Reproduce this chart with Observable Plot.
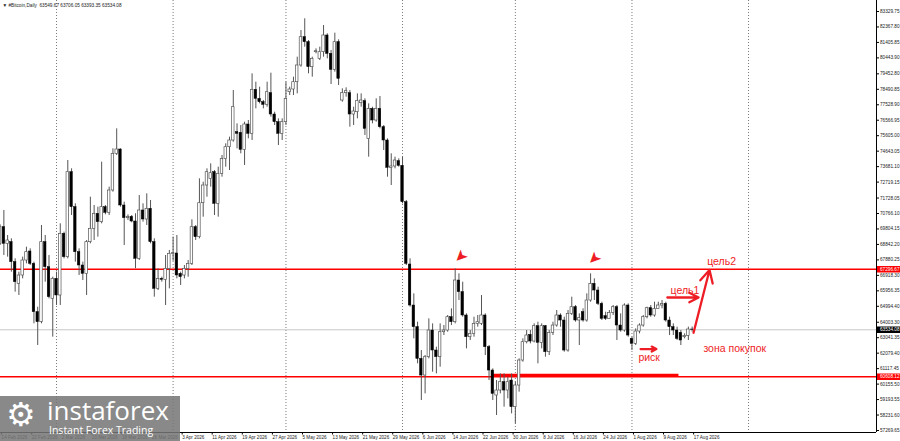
<!DOCTYPE html>
<html><head><meta charset="utf-8">
<script src="https://cdn.jsdelivr.net/npm/d3@7"></script>
<script src="https://cdn.jsdelivr.net/npm/@observablehq/plot@0.6"></script>
<style>
html,body{margin:0;padding:0;background:#fff;overflow:hidden}
#wrap{position:relative;width:900px;height:441px;overflow:hidden}
#wm{position:absolute;left:0;top:396px;width:180px;height:45px;background:rgba(118,118,118,0.86);color:#fff;font-family:"Open Sans","Liberation Sans",sans-serif;overflow:hidden}
#wm .gear{position:absolute;left:6px;top:1px;font-size:33px;line-height:36px;font-family:"DejaVu Sans"}
#wm .big{position:absolute;left:47px;top:1px;font-size:26px;line-height:27px}
#wm .small{position:absolute;left:49px;top:28px;font-size:10.5px;line-height:12px}
</style></head>
<body><div id="wrap"><div id="chart"></div>
<div id="wm"><span class="gear">⚙</span><div class="big">instaforex</div><div class="small">Instant Forex Trading</div></div></div>
<script>
const startDate = new Date(Date.UTC(2026, 1, 14));
const openV = [68880,69916,68880,68984,67740,66392,66911,67843,68403,67636,64630,64008,68984,67429,65460,66703,65667,69502,68051,73337,71160,68362,67533,67014,68984,69813,70746,70227,71160,70808,72197,74477,74746,71264,70476,70559,70269,67947,70953,70393,71057,68984,66081,66703,66641,67325,68258,68279,67013,66909,67324,67635,69916,69294,71408,72507,72922,73337,71367,73233,74166,74891,75306,75824,75783,74725,76301,75721,78458,77898,77690,77525,78250,76923,76447,75721,76447,78312,78478,78934,79971,81733,81422,79867,80800,80386,80800,81837,80697,79702,81422,77794,78250,78250,76923,77068,77628,77753,75410,77276,76550,77276,76135,75306,73606,73689,74020,73730,71470,67593,65043,63696,61726,60689,61830,63488,62244,61830,63385,63488,64318,64007,66598,65873,64422,63074,63281,63903,63903,64422,62452,61000,59445,59756,60275,59756,60378,58720,60067,61622,62762,63219,62804,63758,62721,63758,62141,63343,63799,64421,64110,62244,64525,64939,64110,64628,64110,65354,66391,65976,65147,64380,64214,64587,64939,63799,63488,65043,62970,62659,63426,63799,64317,64877,64421,64836,65043,65147,64110,63695,63488,63343,63073,63156,63549.67];
const highV = [70061,70953,69398,69191,67947,67118,68051,68672,68569,67740,64941,70020,69398,68154,66807,67118,70124,69606,74062,73544,71367,68569,67740,69087,71782,71264,71160,73959,71264,72404,74788,76032,74788,71471,70683,70642,70746,71886,71367,71989,71575,69191,67325,66807,68154,68465,69294,69398,67117,67531,67842,70372,70019,72922,72714,73544,73855,73440,73648,74373,75099,75513,78416,76343,76239,76447,76550,79453,78934,78623,77794,78934,79494,77068,76654,76654,78934,78623,79245,80489,82148,82874,81526,80489,81008,81111,82459,81941,80904,81982,81568,78520,78582,78416,77379,78209,78209,77898,77587,77379,77898,78043,76239,75410,74477,74270,74166,74270,71574,67946,65769,64007,62244,61933,64214,63903,62451,63903,63799,64422,64836,67324,67013,66495,64525,63488,64318,64422,65665,64525,62555,61104,60378,60793,60793,60586,60793,60275,61726,62970,63488,63488,63903,64006,63903,63799,63488,64006,64732,64525,64317,64732,65561,65043,64525,64836,65769,67013,66702,66183,65250,64628,64732,65043,65043,64525,65147,65147,63073,63592,63903,64421,64939,65043,65250,65250,65354,65250,64317,63903,63695,63488,63281,63700,63706.05];
const lowV = [68776,68154,68051,67118,65874,65667,66703,67636,67533,63905,62557,63905,66496,65460,63076,65045,65045,67947,67947,70642,67740,66911,66599,65667,68880,69087,69294,70124,70683,70642,72093,74373,71160,68776,70331,70186,67325,67843,70227,70020,68880,65563,65978,66496,65045,66081,67800,66703,66287,66702,66806,67531,69086,69190,70537,71781,72403,70641,70537,73025,73648,73440,75203,74788,74477,73751,75410,75306,77276,77587,77276,77379,76757,76239,74995,75306,76239,78105,78105,78209,79867,81111,79453,79245,80697,80282,80489,80386,78789,79556,78727,77690,78001,76135,76239,76654,77379,75617,74270,76343,76447,76032,74684,73025,72507,73544,73647,71367,67531,64940,62970,61415,59134,59549,61726,60897,60793,61208,63178,63385,63799,63903,65354,64318,62348,62866,63074,63696,63799,61933,60378,59134,58202,59549,58720,59238,58305,57683,59653,61518,62659,62659,62721,61415,62348,61830,61933,63177,63695,63695,62141,62141,64421,64006,62555,64006,64006,65250,65354,65043,64110,64110,64214,64421,62866,63385,63385,63073,62244,62555,63281,63695,64214,64317,64317,64836,64836,64006,63177,63177,62866,62555,62970,62866,63393.35];
const closeV = [69916,68880,69087,67740,66496,66911,67843,68362,67636,64630,64008,68984,67429,65563,66703,65667,69502,68051,73337,71160,68362,67533,67014,68984,69813,70746,70227,71160,70808,72197,74477,74746,71264,70476,70559,70269,67947,70953,70393,71057,68984,66081,66703,66641,67325,68258,68300,66911,66806,67324,67635,69916,69294,71408,72507,73337,73274,71367,73233,74166,74891,75306,77379,75721,74725,76301,75721,78458,77898,77690,77525,78312,76923,76447,75721,76447,77898,78478,78934,79971,81733,81422,79867,80386,80862,80800,81837,80697,79702,81422,79142,78250,78375,76923,77110,77753,77794,76032,77276,76550,77276,76135,75306,73606,73689,74062,73730,71470,67635,65043,63696,61726,60689,61830,63488,62244,61830,63385,63488,64318,64007,66598,65873,64422,63074,63281,63903,64007,64422,62452,61000,59549,59756,60275,59756,60275,58720,60067,61622,62762,63178,62804,63758,62721,63758,62141,63343,63799,64421,64110,62244,64525,64939,64110,64255,64110,65354,66391,65976,65147,64214,64214,64587,64939,63799,63488,65043,63177,62659,63426,63799,64317,64877,64421,64836,65043,65147,64110,63695,63488,62970,62866,63156,63550,63534.08];

const yTicks = [83329.75,82367.80,81405.85,80443.90,79452.80,78490.85,77528.90,76566.95,75605.00,74643.05,73681.10,72719.15,71728.05,70766.10,69804.15,68842.20,67880.25,66918.30,65956.35,64994.40,64003.30,63041.35,62079.40,61117.45,60155.50,59193.55,58231.60,57269.65];
const xTickDates = ["2026-02-14","2026-02-22","2026-03-02","2026-03-10","2026-03-18","2026-03-26","2026-04-03","2026-04-11","2026-04-19","2026-04-27","2026-05-05","2026-05-13","2026-05-21","2026-05-29","2026-06-06","2026-06-14","2026-06-22","2026-06-30","2026-07-08","2026-07-16","2026-07-24","2026-08-01","2026-08-09","2026-08-17"].map(s => new Date(s + "T00:00Z"));
const monthSeparators = ["2026-03-01","2026-04-01","2026-05-01","2026-06-01","2026-07-01","2026-08-01","2026-09-01"].map(s => new Date(s + "T00:00Z"));
const levels = [67296.67, 60608.12];
const currentPrice = 63534.08;
const priceTags = [{value: 67296.67, color: "#ff0000"}, {value: 63534.08, color: "#000000"}, {value: 60608.12, color: "#ff0000"}];
const zoneSegment = [{y: 60720, x1: new Date("2026-06-25T00:00Z"), x2: new Date("2026-08-13T12:00Z")}];
const labels = [
  {text: "цель2", date: new Date("2026-08-21T00:00Z"), price: 67780},
  {text: "цель1", date: new Date("2026-08-11T06:00Z"), price: 65946},
  {text: "риск", date: new Date("2026-08-02T17:00Z"), price: 61778},
  {text: "зона покупок", date: new Date("2026-08-20T00:00Z"), price: 62370}
];
const arrows = [
  {x1: new Date("2026-08-17T09:00Z"), y1: 63350, x2: new Date("2026-08-21T15:00Z"), y2: 67250},
  {x1: new Date("2026-08-10T10:00Z"), y1: 65541, x2: new Date("2026-08-18T17:00Z"), y2: 65541},
  {x1: new Date("2026-08-03T07:00Z"), y1: 62337, x2: new Date("2026-08-07T12:00Z"), y2: 62337}
];
const peakMarks = [
  {date: new Date("2026-06-16T12:00Z"), price: 68090},
  {date: new Date("2026-07-22T00:00Z"), price: 67960}
];
const header = "▼ #Bitcoin,Daily  63549.67 63706.05 63393.35 63534.08";
const xDomain = [new Date(Date.UTC(2026, 1, 14, 2, 33)), new Date(Date.UTC(2026, 9, 5, 0, 30))];
const yDomain = [57145.3, 84013.9];

const candles = openV.map((o, i) => ({
  date: d3.utcDay.offset(startDate, i), open: o, high: highV[i], low: lowV[i], close: closeV[i]
}));
const RED = "#ee1c25";
const FONT = "'Liberation Sans', Arial, sans-serif";

const chart = Plot.plot({
  width: 900, height: 441,
  marginLeft: 0, marginTop: 0, marginRight: 24, marginBottom: 9,
  style: {fontFamily: FONT, overflow: "hidden", background: "#fff"},
  x: {type: "utc", domain: xDomain, axis: null},
  y: {domain: yDomain, axis: null},
  marks: [
    Plot.ruleX(monthSeparators, {stroke: "#7a7a7a", strokeDasharray: "1,2", strokeWidth: 1}),
    Plot.ruleY([currentPrice], {stroke: "#c8c8c8", strokeWidth: 1}),
    Plot.ruleY(levels, {stroke: "#ff0000", strokeWidth: 1.4}),
    Plot.ruleY(zoneSegment, {y: "y", x1: "x1", x2: "x2", stroke: "#ff0000", strokeWidth: 2.6}),
    Plot.ruleX(candles, {x: "date", y1: "low", y2: "high", stroke: "#555", strokeWidth: 1}),
    Plot.rect(candles, {filter: d => d.close >= d.open, x1: d => d3.utcHour.offset(d.date, -8), x2: d => d3.utcHour.offset(d.date, 8), y1: "open", y2: "close", fill: "#fff", stroke: "#555", strokeWidth: 0.7}),
    Plot.rect(candles, {filter: d => d.close < d.open, x1: d => d3.utcHour.offset(d.date, -8), x2: d => d3.utcHour.offset(d.date, 8), y1: "open", y2: "close", fill: "#000", stroke: "#000", strokeWidth: 0.5}),
    Plot.ruleX([xDomain[1]], {stroke: "#000", strokeWidth: 1}),
    Plot.ruleY([yDomain[0]], {stroke: "#000", strokeWidth: 1}),
    Plot.axisY(yTicks, {anchor: "right", tickFormat: d => d.toFixed(2), fontSize: 4.7, tickSize: 2, tickPadding: 1.5, fill: "#222", stroke: "#000", label: null}),
    Plot.axisX(xTickDates, {anchor: "bottom", tickFormat: d3.utcFormat("%-d %b %Y"), fontSize: 4.6, tickSize: 2.5, tickPadding: 0.5, textAnchor: "start", dx: 1.5, fill: "#222", stroke: "#000", label: null}),
    Plot.ruleY(priceTags, {y: "value", stroke: "color", strokeWidth: 6.5, dx: 877}),
    Plot.text(priceTags, {y: "value", text: d => d.value.toFixed(2), frameAnchor: "right", dx: 3.5, textAnchor: "start", fill: "#fff", fontSize: 4.7}),
    Plot.arrow(arrows, {x1: "x1", y1: "y1", x2: "x2", y2: "y2", stroke: RED, strokeWidth: 2.3, headLength: 9, headAngle: 55}),
    Plot.text(peakMarks, {x: "date", y: "price", text: () => "➤", rotate: 135, fill: RED, fontSize: 16, fontFamily: "DejaVu Sans"}),
    Plot.text(labels, {x: "date", y: "price", text: "text", fill: RED, fontSize: 10.5, textAnchor: "start", fontFamily: FONT}),
    Plot.text([header], {frameAnchor: "top-left", dx: 2, dy: 3.5, fontSize: 4.7, textAnchor: "start", fill: "#222"})
  ]
});
document.getElementById("chart").appendChild(chart);
</script>
</body></html>
